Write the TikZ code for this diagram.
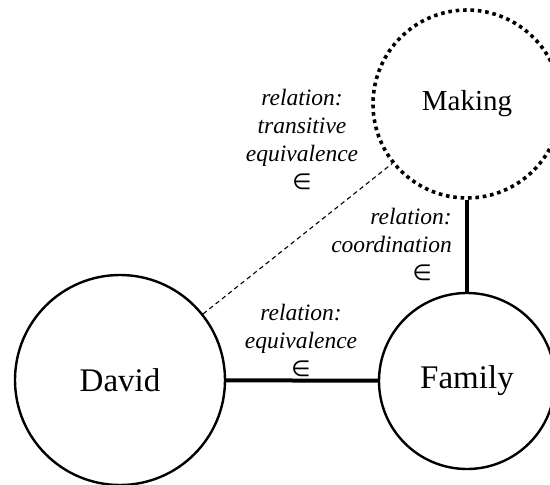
\documentclass[tikz,border=0pt]{standalone}
\usepackage{fontspec}
\setmainfont{Liberation Serif}
\newfontfamily\symfont{DejaVu Sans}
\newcommand{\memb}{{\symfont\upshape\fontsize{22}{28}\selectfont ∈}}
\begin{document}
\begin{tikzpicture}[x=1pt,y=-1pt,
  concept/.style={circle,draw,line width=2.4pt,inner sep=0pt,
    font=\fontsize{33}{36}\selectfont},
  hidden/.style={concept,line width=3.6pt,dash pattern=on 3.6pt off 3.8pt,
    font=\fontsize{29}{32}\selectfont},
  strong/.style={line width=4pt},
  weak/.style={line width=1.1pt,dash pattern=on 4.5pt off 3.5pt},
  rel/.style={font=\fontsize{23.5}{28}\selectfont\itshape,inner sep=0pt}]
  \useasboundingbox (0,0) rectangle (550,485);

  \node[concept,minimum size=210pt] (david) at (120,380) {David};
  \node[concept,minimum size=176pt] (family) at (467,381) {Family};
  \node[hidden,minimum size=188pt] (making) at (467,104) {Making};

  \draw[strong] (david) -- (family);
  \draw[strong] (making) -- (family);
  \draw[weak] (david) -- (making);

  \node[rel,align=center] (ltrans) at (302,139)
    {relation:\\transitive\\equivalence\\\memb};
  \node[rel,align=center] (lequiv) at (301,340)
    {relation:\\equivalence\\\memb};
  \node[rel,align=right,anchor=east] (lcoord) at (452,244)
    {relation:\\coordination\\\memb\hspace*{20pt}};
\end{tikzpicture}
\end{document}
